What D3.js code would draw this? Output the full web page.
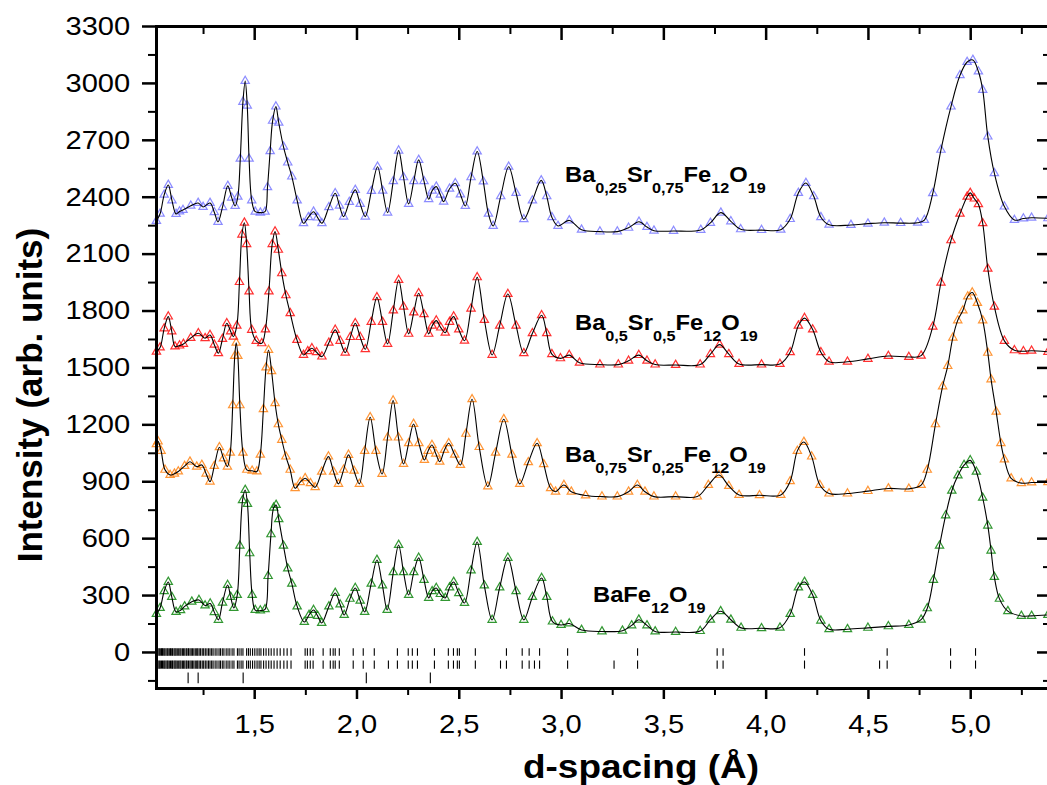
<!DOCTYPE html>
<html>
<head>
<meta charset="utf-8">
<script src="https://d3js.org/d3.v7.min.js"></script>
<style>
  body { margin: 0; background: #fff; }
  svg { display: block; font-family: "Liberation Sans", Arial, sans-serif; }
</style>
</head>
<body>
<div id="topdiv"></div>
<script>
var ba025_sr075 = [
  [1.022,2272],[1.04,2310],[1.06,2410],[1.08,2462],[1.098,2380],[1.118,2309],[1.135,2322],[1.152,2330],
  [1.19,2352],[1.226,2367],[1.25,2346],[1.284,2367],[1.305,2318],[1.323,2267],[1.345,2345],[1.371,2457],
  [1.39,2395],[1.407,2351],[1.42,2400],[1.432,2600],[1.445,2900],[1.456,3010],[1.466,2880],[1.475,2600],
  [1.488,2380],[1.505,2321],[1.53,2316],[1.553,2321],[1.565,2450],[1.578,2640],[1.59,2800],[1.606,2875],
  [1.62,2790],[1.643,2664],[1.664,2580],[1.684,2506],[1.71,2380],[1.741,2260],[1.765,2292],[1.79,2321],
  [1.81,2290],[1.831,2260],[1.865,2345],[1.896,2418],[1.917,2352],[1.937,2295],[1.965,2372],[1.994,2436],
  [2.018,2362],[2.043,2295],[2.073,2430],[2.103,2558],[2.128,2432],[2.152,2316],[2.18,2482],[2.206,2643],
  [2.23,2502],[2.255,2362],[2.28,2482],[2.304,2594],[2.33,2482],[2.353,2387],[2.37,2432],[2.39,2453],
  [2.41,2410],[2.426,2374],[2.455,2442],[2.483,2471],[2.508,2412],[2.532,2351],[2.56,2502],[2.59,2638],
  [2.62,2480],[2.645,2310],[2.668,2246],[2.705,2402],[2.744,2558],[2.78,2420],[2.818,2281],[2.86,2380],
  [2.903,2486],[2.93,2402],[2.955,2292],[2.985,2246],[3.04,2275],[3.1,2226],[3.19,2216],[3.275,2216],
  [3.33,2236],[3.381,2268],[3.42,2240],[3.454,2221],[3.55,2219],[3.683,2225],[3.73,2262],[3.781,2316],
  [3.83,2270],[3.878,2228],[3.98,2224],[4.074,2226],[4.12,2282],[4.16,2420],[4.197,2472],[4.235,2402],
  [4.27,2292],[4.31,2252],[4.417,2251],[4.5,2258],[4.58,2263],[4.66,2261],[4.743,2263],[4.776,2277],
  [4.817,2418],[4.857,2647],[4.906,2875],[4.95,3040],[4.985,3110],[5.013,3121],[5.04,3060],[5.061,2963],
  [5.086,2717],[5.118,2524],[5.167,2348],[5.216,2277],[5.26,2285],[5.3,2289],[5.38,2286]
];
var ba05_sr05 = [
  [1.022,1583],[1.04,1605],[1.06,1705],[1.08,1768],[1.097,1690],[1.113,1610],[1.135,1615],[1.154,1624],
  [1.19,1655],[1.227,1680],[1.26,1654],[1.284,1671],[1.305,1620],[1.325,1575],[1.345,1650],[1.366,1733],
  [1.385,1690],[1.398,1662],[1.415,1720],[1.428,1950],[1.44,2200],[1.452,2263],[1.463,2150],[1.475,1900],
  [1.488,1698],[1.51,1640],[1.537,1627],[1.555,1700],[1.572,1900],[1.588,2150],[1.602,2216],[1.618,2120],
  [1.635,1996],[1.655,1880],[1.676,1786],[1.709,1645],[1.741,1566],[1.762,1585],[1.782,1601],[1.805,1580],
  [1.831,1557],[1.865,1630],[1.896,1698],[1.92,1640],[1.945,1578],[1.97,1660],[1.994,1733],[2.018,1660],
  [2.043,1596],[2.072,1740],[2.1,1870],[2.127,1740],[2.152,1624],[2.18,1800],[2.206,1961],[2.23,1820],
  [2.255,1677],[2.28,1790],[2.304,1891],[2.33,1780],[2.353,1677],[2.37,1720],[2.39,1747],[2.412,1710],
  [2.434,1683],[2.455,1740],[2.475,1768],[2.5,1700],[2.528,1641],[2.56,1810],[2.59,1975],[2.625,1750],
  [2.663,1566],[2.7,1720],[2.74,1887],[2.78,1720],[2.818,1575],[2.86,1680],[2.905,1775],[2.93,1680],
  [2.955,1570],[2.997,1548],[3.04,1565],[3.09,1525],[3.19,1515],[3.28,1515],[3.33,1535],[3.38,1565],
  [3.42,1535],[3.46,1515],[3.56,1513],[3.68,1515],[3.73,1570],[3.775,1620],[3.82,1570],[3.87,1518],
  [3.98,1515],[4.07,1518],[4.12,1580],[4.16,1720],[4.19,1760],[4.23,1700],[4.27,1580],[4.31,1530],
  [4.4,1530],[4.5,1545],[4.6,1560],[4.7,1555],[4.76,1562],[4.817,1715],[4.857,1947],[4.906,2170],
  [4.95,2310],[4.985,2400],[5.0,2420],[5.02,2390],[5.04,2360],[5.061,2260],[5.086,2020],[5.118,1820],
  [5.167,1640],[5.216,1590],[5.26,1585],[5.3,1588],[5.38,1582]
];
var ba075_sr025 = [
  [1.022,1095],[1.03,1110],[1.045,1060],[1.064,960],[1.089,933],[1.11,940],[1.129,951],[1.16,980],
  [1.186,1003],[1.219,977],[1.244,986],[1.265,940],[1.284,898],[1.305,980],[1.33,1079],[1.35,1020],
  [1.369,977],[1.383,1050],[1.395,1300],[1.405,1560],[1.412,1630],[1.42,1560],[1.43,1300],[1.445,1050],
  [1.464,960],[1.49,955],[1.513,951],[1.53,1040],[1.545,1280],[1.558,1500],[1.57,1592],[1.585,1480],
  [1.602,1311],[1.618,1200],[1.635,1118],[1.655,1030],[1.676,960],[1.7,863],[1.725,895],[1.749,916],
  [1.775,890],[1.798,868],[1.83,950],[1.863,1030],[1.888,950],[1.912,886],[1.937,960],[1.961,1039],
  [1.988,955],[2.014,886],[2.04,1060],[2.067,1237],[2.095,1060],[2.125,938],[2.152,1130],[2.179,1325],
  [2.205,1130],[2.23,991],[2.255,1100],[2.279,1202],[2.305,1100],[2.332,1012],[2.35,1060],[2.369,1091],
  [2.388,1045],[2.407,1003],[2.43,1065],[2.451,1100],[2.48,1040],[2.508,986],[2.535,1150],[2.565,1332],
  [2.6,1080],[2.642,872],[2.68,1050],[2.72,1227],[2.76,1040],[2.798,886],[2.84,1000],[2.883,1100],
  [2.915,990],[2.949,863],[2.973,845],[3.014,880],[3.05,845],[3.12,825],[3.2,819],[3.275,819],
  [3.33,845],[3.373,880],[3.41,845],[3.454,819],[3.56,819],[3.666,819],[3.72,880],[3.772,933],
  [3.82,875],[3.87,828],[3.97,826],[4.074,828],[4.12,900],[4.155,1060],[4.187,1107],[4.225,1030],
  [4.265,880],[4.31,835],[4.4,835],[4.5,848],[4.6,862],[4.7,860],[4.76,880],[4.79,960],
  [4.83,1200],[4.865,1400],[4.89,1507],[4.915,1657],[4.939,1748],[4.964,1800],[4.988,1874],[5.01,1895],
  [5.035,1840],[5.061,1748],[5.086,1577],[5.102,1437],[5.127,1266],[5.15,1100],[5.167,1015],[5.2,915],
  [5.25,890],[5.3,893],[5.38,895]
];
var bafe12o19 = [
  [1.022,200],[1.04,232],[1.06,320],[1.08,369],[1.097,290],[1.118,211],[1.14,220],[1.16,240],
  [1.195,265],[1.23,274],[1.26,245],[1.285,255],[1.305,210],[1.325,169],[1.345,260],[1.37,353],
  [1.385,290],[1.4,232],[1.417,300],[1.43,560],[1.443,800],[1.456,854],[1.467,780],[1.478,520],
  [1.49,300],[1.505,221],[1.53,218],[1.553,225],[1.568,400],[1.582,620],[1.595,760],[1.607,775],
  [1.62,700],[1.643,560],[1.664,440],[1.684,360],[1.71,240],[1.745,158],[1.768,195],[1.79,221],
  [1.81,190],[1.83,153],[1.865,240],[1.896,311],[1.92,250],[1.94,195],[1.968,280],[1.994,337],
  [2.018,270],[2.04,211],[2.072,360],[2.1,485],[2.127,350],[2.15,221],[2.18,420],[2.206,564],
  [2.23,420],[2.255,300],[2.28,420],[2.304,496],[2.33,380],[2.353,285],[2.37,320],[2.39,337],
  [2.41,305],[2.434,285],[2.455,340],[2.475,369],[2.5,310],[2.528,258],[2.56,430],[2.59,580],
  [2.625,350],[2.663,169],[2.7,340],[2.74,496],[2.78,320],[2.818,169],[2.86,290],[2.905,390],
  [2.93,290],[2.958,160],[3.0,142],[3.04,150],[3.1,116],[3.2,108],[3.3,112],[3.345,140],
  [3.38,170],[3.42,140],[3.46,108],[3.56,105],[3.68,110],[3.73,170],[3.78,215],[3.83,170],
  [3.88,127],[3.98,125],[4.07,128],[4.12,200],[4.16,340],[4.19,369],[4.23,300],[4.27,165],
  [4.31,120],[4.4,120],[4.5,127],[4.6,135],[4.7,142],[4.76,170],[4.79,230],[4.82,380],
  [4.85,560],[4.88,720],[4.91,850],[4.94,930],[4.97,985],[5.0,1010],[5.03,950],[5.061,813],
  [5.086,666],[5.102,534],[5.118,395],[5.143,280],[5.184,215],[5.25,190],[5.3,190],[5.38,195]
];

// reflection positions (d, A) for the three marker rows under the patterns
var reflRow1 = [
  1.03,1.036,1.041,1.047,1.052,1.058,1.063,1.069,1.075,1.079,1.085,1.091,1.097,1.101,1.108,1.113,
  1.118,1.124,1.131,1.137,1.142,1.149,1.155,1.161,1.168,1.172,1.179,1.186,1.192,1.198,1.205,1.212,
  1.219,1.224,1.231,1.238,1.246,1.253,1.261,1.269,1.277,1.284,1.292,1.299,1.309,1.318,1.328,1.335,
  1.344,1.352,1.363,1.372,1.381,1.392,1.401,1.418,1.426,1.436,1.445,1.463,1.472,1.481,1.492,1.503,
  1.514,1.524,1.533,1.546,1.558,1.571,1.583,1.597,1.612,1.627,1.645,1.661,1.68,
  1.749,1.76,1.774,1.788,1.837,1.872,1.886,1.896,1.916,1.984,2.033,2.087,2.2,2.253,2.273,2.298,
  2.381,2.449,2.474,2.493,2.503,2.581,2.733,2.81,2.844,2.895,3.032,3.374,3.763,3.792,4.19,4.594,
  4.904,5.026
];
var reflRow2 = [
  1.03,1.036,1.041,1.047,1.052,1.058,1.063,1.069,1.075,1.079,1.085,1.091,1.097,1.101,1.108,1.113,
  1.118,1.124,1.131,1.137,1.142,1.149,1.155,1.161,1.168,1.172,1.179,1.186,1.192,1.198,1.205,1.212,
  1.219,1.224,1.231,1.238,1.246,1.253,1.261,1.269,1.277,1.284,1.292,1.299,1.309,1.318,1.328,1.335,
  1.344,1.352,1.363,1.372,1.381,1.392,1.401,1.418,1.426,1.436,1.445,1.463,1.472,1.481,1.492,1.503,
  1.514,1.524,1.533,1.546,1.558,1.571,1.583,1.597,1.612,1.627,1.645,1.661,1.68,
  1.749,1.76,1.774,1.788,1.837,1.872,1.886,1.896,1.916,1.984,2.033,2.087,2.156,2.2,2.253,2.273,
  2.298,2.381,2.449,2.474,2.493,2.503,2.581,2.704,2.733,2.81,2.844,2.87,2.895,3.032,3.259,3.374,
  3.763,3.792,4.19,4.557,4.594,4.904,5.026
];
var reflRow3 = [1.177, 1.226, 1.446, 2.048, 2.361];

var yMajor = [0,300,600,900,1200,1500,1800,2100,2400,2700,3000,3300];
var yMinor = [-150,150,450,750,1050,1350,1650,1950,2250,2550,2850,3150];
var xMajor = [1.5,2.0,2.5,3.0,3.5,4.0,4.5,5.0];
var xMinor = [1.25,1.75,2.25,2.75,3.25,3.75,4.25,4.75,5.25];
var xTickLabels = ["1,5","2,0","2,5","3,0","3,5","4,0","4,5","5,0"];

// name parts, flag 1 = subscript
var label1 = [["Ba",0],["0,25",1],["Sr",0],["0,75",1],["Fe",0],["12",1],["O",0],["19",1]];
var label2 = [["Ba",0],["0,5",1],["Sr",0],["0,5",1],["Fe",0],["12",1],["O",0],["19",1]];
var label3 = [["Ba",0],["0,75",1],["Sr",0],["0,25",1],["Fe",0],["12",1],["O",0],["19",1]];
var label4 = [["BaFe",0],["12",1],["O",0],["19",1]];

drawGraph();

function drawGraph() {
    var margin = {top: 26, right: -3, bottom: 97, left: 156},
        width = 1047 - margin.left - margin.right,
        height = 785 - margin.top - margin.bottom;

    var x = d3.scaleLinear().domain([1.02, 5.39]).range([0, width]);
    var y = d3.scaleLinear().domain([-190, 3300]).range([height, 0]);

    var root = d3.select("#topdiv").append("svg")
        .attr("width", 1047)
        .attr("height", 785);
    var svg = root.append("g")
        .attr("transform", "translate(" + margin.left + "," + margin.top + ")");

    var line = d3.line()
        .x(function(d) { return x(d[0]); })
        .y(function(d) { return y(d[1]); })
        .curve(d3.curveCatmullRom.alpha(0.5));

    var tri = d3.symbol().type(d3.symbolTriangle).size(30);

    var series = [
        {data: bafe12o19,   color: "#1c8c1c", op: 0.9},
        {data: ba075_sr025, color: "#ff8a1f", op: 0.9},
        {data: ba05_sr05,   color: "#ff1a1a", op: 0.9},
        {data: ba025_sr075, color: "#6f6fff", op: 0.8}
    ];

    series.forEach(function(s) {
        // open triangles
        svg.append("g").selectAll("path")
            .data(s.data)
          .enter().append("path")
            .attr("d", tri)
            .attr("transform", function(d) { return "translate(" + x(d[0]) + "," + y(d[1]) + ")"; })
            .attr("fill", "none")
            .attr("stroke", s.color)
            .attr("stroke-opacity", s.op)
            .attr("stroke-width", 1.2);
        // fitted profile
        svg.append("path")
            .datum(s.data)
            .attr("fill", "none")
            .attr("stroke", "#000")
            .attr("stroke-width", 1.1)
            .attr("d", line);
    });

    // reflection marker rows
    var rows = [[reflRow1, 20, -20], [reflRow2, -45, -88], [reflRow3, -108, -165]];
    rows.forEach(function(r) {
        svg.append("g").selectAll("line")
            .data(r[0])
          .enter().append("line")
            .attr("x1", function(d) { return x(d); })
            .attr("x2", function(d) { return x(d); })
            .attr("y1", y(r[1]))
            .attr("y2", y(r[2]))
            .attr("stroke", "#000")
            .attr("stroke-width", 1.1);
    });

    // axes
    function style(g, w) {
        g.select(".domain").attr("stroke-width", 3).attr("stroke-linecap", "square");
        g.selectAll(".tick line").attr("stroke-width", w);
        g.selectAll("text").attr("font-size", 26).attr("fill", "#000");
    }

    svg.append("g")
        .call(d3.axisLeft(y).tickValues(yMinor).tickSize(8).tickSizeOuter(0).tickFormat(""))
        .call(style, 2);
    svg.append("g")
        .call(d3.axisLeft(y).tickValues(yMajor).tickSize(14).tickSizeOuter(0).tickPadding(9).tickFormat(d3.format("d")))
        .call(style, 2.5)
        .selectAll("text").attr("transform", "scale(1.12,1)");

    svg.append("g")
        .attr("transform", "translate(0," + height + ")")
        .call(d3.axisBottom(x).tickValues(xMinor).tickSize(7).tickSizeOuter(0).tickFormat(""))
        .call(style, 2);
    svg.append("g")
        .attr("transform", "translate(0," + height + ")")
        .call(d3.axisBottom(x).tickValues(xMajor).tickSize(11).tickSizeOuter(0).tickPadding(16)
            .tickFormat(function(d, i) { return xTickLabels[i]; }))
        .call(style, 2.5)
        .selectAll("text").attr("transform", "scale(1.12,1)");

    // top and right frame, ticks pointing inward
    svg.append("g")
        .call(d3.axisTop(x).tickValues(xMinor).tickSize(-8).tickSizeOuter(0).tickFormat(""))
        .call(style, 2);
    svg.append("g")
        .call(d3.axisTop(x).tickValues(xMajor).tickSize(-14).tickSizeOuter(0).tickFormat(""))
        .call(style, 2.5);
    svg.append("g")
        .attr("transform", "translate(" + width + ",0)")
        .call(d3.axisRight(y).tickValues(yMinor).tickSize(-7).tickSizeOuter(0).tickFormat(""))
        .call(style, 2);
    svg.append("g")
        .attr("transform", "translate(" + width + ",0)")
        .call(d3.axisRight(y).tickValues(yMajor).tickSize(-13).tickSizeOuter(0).tickFormat(""))
        .call(style, 2.5);

    // axis titles
    root.append("text")
        .attr("transform", "translate(42,395) rotate(-90)")
        .attr("text-anchor", "middle")
        .attr("font-weight", "bold")
        .attr("font-size", 35)
        .text("Intensity (arb. units)");
    root.append("text")
        .attr("transform", "translate(641,778) scale(1.12,1)")
        .attr("text-anchor", "middle")
        .attr("font-weight", "bold")
        .attr("font-size", 33)
        .text("d-spacing (\u00C5)");

    // sample names
    drawLabel(root, label1, 565, 182);
    drawLabel(root, label2, 575, 330);
    drawLabel(root, label3, 565, 462);
    drawLabel(root, label4, 593, 602);
}

function drawLabel(root, parts, x0, y0) {
    var t = root.append("text")
        .attr("transform", "translate(" + x0 + "," + y0 + ") scale(1.08,1)")
        .attr("font-weight", "bold")
        .attr("fill", "#000");
    var down = false;
    parts.forEach(function(p) {
        var sub = p[1] === 1;
        var dy = 0;
        if (sub && !down) dy = 11;
        if (!sub && down) dy = -11;
        t.append("tspan")
            .attr("font-size", sub ? 15 : 22)
            .attr("dy", dy)
            .text(p[0]);
        down = sub;
    });
}
</script>
</body>
</html>
